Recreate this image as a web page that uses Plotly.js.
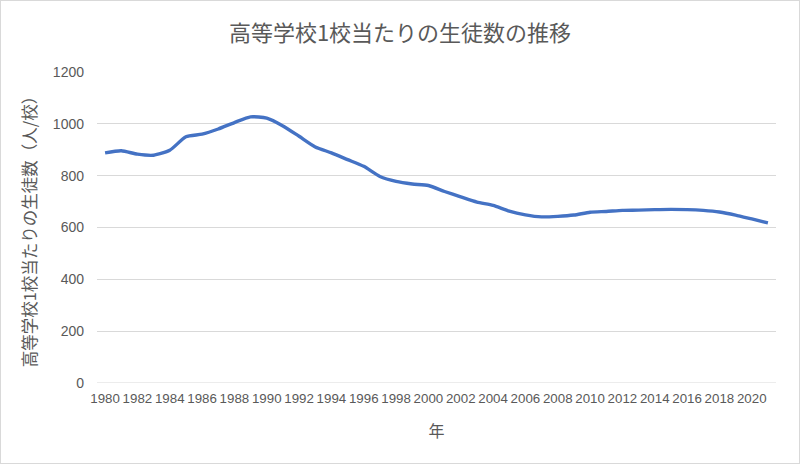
<!DOCTYPE html>
<html>
<head>
<meta charset="utf-8">
<script src="https://cdn.plot.ly/plotly-3.0.1.min.js"></script>
<style>
html,body{margin:0;padding:0;background:#fff;}
#chart{width:800px;height:464px;box-sizing:border-box;border:1px solid #d9d9d9;}
</style>
</head>
<body>
<div id="chart"></div>
<script>
const years = [1980,1981,1982,1983,1984,1985,1986,1987,1988,1989,1990,1991,1992,1993,1994,1995,1996,1997,1998,1999,2000,2001,2002,2003,2004,2005,2006,2007,2008,2009,2010,2011,2012,2013,2014,2015,2016,2017,2018,2019,2020,2021];
const studentsPerSchool = [888,896,883,879,898,950,960,980,1005,1027,1022,992,952,911,888,862,836,797,778,768,762,739,718,698,685,663,649,641,643,648,659,662,666,667,669,670,669,666,660,648,633,618];
const tickYears = [1980,1982,1984,1986,1988,1990,1992,1994,1996,1998,2000,2002,2004,2006,2008,2010,2012,2014,2016,2018,2020];
const titleText = '高等学校1校当たりの生徒数の推移';
const yTitle = '高等学校1校当たりの生徒数（人/校）';
const xTitle = '年';

const grey = '#595959';
const cjk = '"Noto Sans CJK JP", "Noto Sans", sans-serif';
const latin = '"Liberation Sans", Arial, sans-serif';

Plotly.newPlot('chart', [{
  x: years,
  y: studentsPerSchool,
  type: 'scatter',
  mode: 'lines',
  line: {color: '#4472C4', width: 3.4, shape: 'spline', smoothing: 0.6},
  hoverinfo: 'x+y'
}], {
  width: 798, height: 462,
  margin: {l: 96, r: 23, t: 71, b: 80},
  paper_bgcolor: '#fff', plot_bgcolor: '#fff',
  showlegend: false,
  title: {text: titleText, font: {family: cjk, size: 22, color: grey}, x: 0.5, xanchor: 'center', xref: 'container', y: 1 - 32/462, yanchor: 'middle', yref: 'container'},
  xaxis: {
    range: [1979.5, 2021.5],
    tickmode: 'array', tickvals: tickYears, ticktext: tickYears.map(String),
    tickangle: 0,
    showgrid: false, zeroline: false,
    showline: false, ticks: '',
    ticklabelstandoff: 6,
    tickfont: {family: latin, size: 13.3, color: grey},
    title: {text: xTitle, font: {family: cjk, size: 16, color: grey}, standoff: 20},
    fixedrange: true
  },
  yaxis: {
    range: [0, 1200],
    tickmode: 'array', tickvals: [0,200,400,600,800,1000,1200],
    showgrid: true, gridcolor: '#d9d9d9', gridwidth: 1,
    zeroline: false, showline: false, ticks: '',
    ticklabelstandoff: 12,
    tickfont: {family: latin, size: 14, color: grey},
    title: {text: yTitle, font: {family: cjk, size: 16.5, color: grey}, standoff: 12},
    fixedrange: true
  },
  shapes: [{type: 'line', xref: 'paper', yref: 'y', x0: 0, x1: 1, y0: 0, y1: 0, line: {color: '#d9d9d9', width: 1}, layer: 'below'}]
}, {displayModeBar: false});
</script>
</body>
</html>
